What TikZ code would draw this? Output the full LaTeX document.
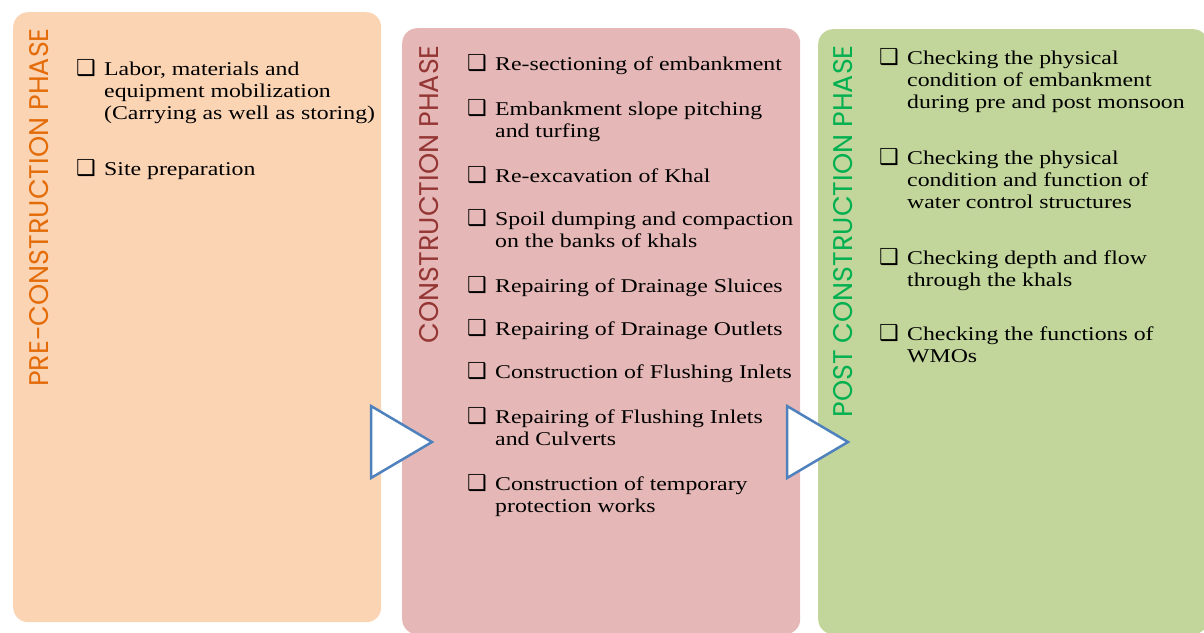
\documentclass[tikz,border=0pt]{standalone}
\usepackage{fontspec}
\setmainfont{Liberation Serif}[FakeStretch=1.22]
\newfontfamily\phasefont{Poppins}
\newfontfamily\symfont{DejaVu Sans}
\usetikzlibrary{positioning}

\definecolor{preFill}{HTML}{FBD4B4}
\definecolor{preText}{HTML}{E36C09}
\definecolor{conFill}{HTML}{E5B8B7}
\definecolor{conText}{HTML}{943634}
\definecolor{postFill}{HTML}{C2D69B}
\definecolor{postText}{HTML}{00B050}
\definecolor{flowLine}{HTML}{4F81BD}

\newcommand{\chkitem}[1]{\makebox[28pt][l]{\symfont\fontsize{22}{22}\selectfont ❑}\parbox[t]{340pt}{#1}}

\begin{document}
\begin{tikzpicture}[x=1pt,y=-1pt,
  panel/.style={rectangle, rounded corners=15pt, anchor=north west, inner sep=0pt},
  phase/.style={rotate=90, anchor=east, inner sep=0pt, font=\phasefont\fontsize{27}{27}\selectfont},
  itm/.style={anchor=base west, inner sep=0pt, align=left, font=\fontsize{19.5}{22}\selectfont},
  flow/.style={draw=flowLine, fill=white, line width=2.5pt, line join=miter}]
\useasboundingbox (0,0) rectangle (1204,632);

\node[panel, fill=preFill, minimum width=368, minimum height=610] (pre) at (13,12) {};
\node[panel, fill=conFill, minimum width=398, minimum height=606] (con) at (402,28) {};
\node[panel, fill=postFill, minimum width=390, minimum height=605] (post) at (818,29) {};

\node[phase, text=preText] (preHead) at (39,28) {PRE-CONSTRUCTION PHASE};
\node[phase, text=conText] (conHead) at (429,45) {CONSTRUCTION PHASE};
\node[phase, text=postText] (postHead) at (843,45) {POST CONSTRUCTION PHASE};

\foreach \n/\y/\t in {1/75/{Labor, materials and\\ equipment mobilization\\ (Carrying as well as storing)},
  2/175/{Site preparation}}{
\node[itm] (pre-\n) at (76,\y) {\chkitem{\t}};};

\foreach \n/\y/\t in {1/70/{Re-sectioning of embankment},
  2/115/{Embankment slope pitching\\ and turfing},
  3/182/{Re-excavation of Khal},
  4/225/{Spoil dumping and compaction\\ on the banks of khals},
  5/292/{Repairing of Drainage Sluices},
  6/335/{Repairing of Drainage Outlets},
  7/378/{Construction of Flushing Inlets},
  8/423/{Repairing of Flushing Inlets\\ and Culverts},
  9/490/{Construction of temporary\\ protection works}}{
\node[itm] (con-\n) at (467,\y) {\chkitem{\t}};};

\foreach \n/\y/\t in {1/64/{Checking the physical\\ condition of embankment\\ during pre and post monsoon},
  2/164/{Checking the physical\\ condition and function of\\ water control structures},
  3/264/{Checking depth and flow\\ through the khals},
  4/340/{Checking the functions of\\ WMOs}}{
\node[itm] (post-\n) at (879,\y) {\chkitem{\t}};};

\coordinate (tipA) at (432,442);
\coordinate (tipB) at (848,442);
\foreach \p in {tipA,tipB}{
\draw[flow] (\p) -- ++(-61,-36) -- ++(0,72) -- cycle;};
\end{tikzpicture}
\end{document}
